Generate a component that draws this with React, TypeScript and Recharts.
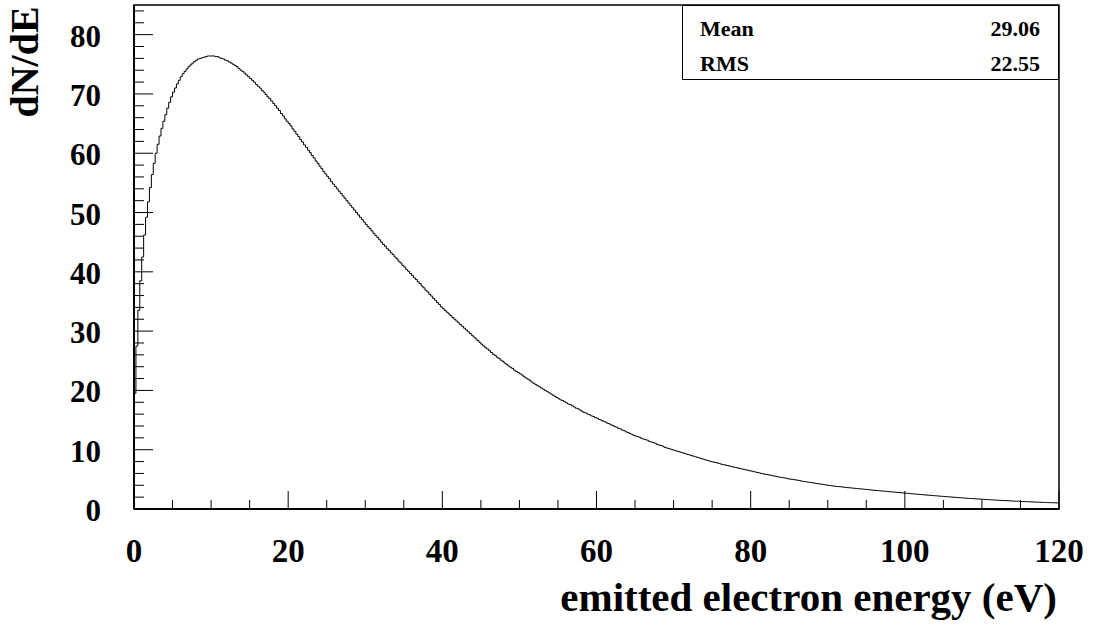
import React from "react";
import { LineChart, Line, XAxis, YAxis, ReferenceArea } from "recharts";

// histogram: 480 bins of 0.25 eV from 0 to 120 eV (one row = 5 eV)
const BIN_WIDTH = 0.25;
const COUNTS = [
  19.5, 27.5, 33.5, 38.5, 42.5, 46.2, 49.2, 51.8, 54.2, 56.4, 58.3, 60.0, 61.5, 62.9, 64.2, 65.4, 66.5, 67.6, 68.6, 69.5,
  70.3, 71.0, 71.7, 72.3, 72.9, 73.4, 73.8, 74.2, 74.6, 74.9, 75.2, 75.5, 75.7, 75.9, 76.0, 76.1, 76.2, 76.3, 76.4, 76.4,
  76.4, 76.4, 76.3, 76.3, 76.1, 76.0, 75.9, 75.7, 75.6, 75.4, 75.2, 75.0, 74.8, 74.6, 74.3, 74.0, 73.8, 73.5, 73.2, 72.9,
  72.6, 72.3, 72.0, 71.6, 71.3, 71.0, 70.6, 70.3, 69.9, 69.5, 69.2, 68.8, 68.4, 68.0, 67.6, 67.2, 66.7, 66.3, 65.8, 65.4,
  65.0, 64.6, 64.1, 63.7, 63.2, 62.8, 62.3, 61.9, 61.4, 61.0, 60.5, 60.1, 59.6, 59.2, 58.7, 58.3, 57.8, 57.4, 56.9, 56.5,
  56.1, 55.7, 55.2, 54.8, 54.4, 54.0, 53.6, 53.2, 52.8, 52.4, 52.0, 51.6, 51.2, 50.8, 50.4, 50.0, 49.6, 49.2, 48.8, 48.4,
  48.0, 47.6, 47.3, 46.9, 46.5, 46.1, 45.8, 45.4, 45.0, 44.6, 44.3, 43.9, 43.6, 43.2, 42.9, 42.5, 42.2, 41.8, 41.5, 41.1,
  40.8, 40.4, 40.1, 39.7, 39.4, 39.0, 38.7, 38.3, 38.0, 37.6, 37.3, 36.9, 36.6, 36.2, 35.9, 35.5, 35.2, 34.8, 34.5, 34.1,
  33.8, 33.5, 33.2, 32.9, 32.6, 32.3, 32.0, 31.7, 31.4, 31.1, 30.8, 30.5, 30.2, 29.9, 29.6, 29.3, 29.0, 28.7, 28.4, 28.1,
  27.8, 27.5, 27.2, 27.0, 26.7, 26.4, 26.1, 25.9, 25.6, 25.4, 25.1, 24.9, 24.6, 24.4, 24.1, 23.9, 23.7, 23.4, 23.2, 23.0,
  22.8, 22.6, 22.3, 22.1, 21.9, 21.7, 21.4, 21.2, 21.0, 20.8, 20.6, 20.4, 20.2, 20.0, 19.8, 19.6, 19.4, 19.2, 19.0, 18.8,
  18.6, 18.4, 18.3, 18.1, 17.9, 17.7, 17.6, 17.4, 17.2, 17.0, 16.9, 16.7, 16.5, 16.3, 16.2, 16.0, 15.9, 15.7, 15.6, 15.4,
  15.3, 15.1, 15.0, 14.8, 14.7, 14.5, 14.4, 14.2, 14.1, 13.9, 13.8, 13.6, 13.5, 13.3, 13.2, 13.0, 12.9, 12.7, 12.6, 12.4,
  12.3, 12.2, 12.1, 11.9, 11.8, 11.7, 11.6, 11.4, 11.3, 11.2, 11.1, 10.9, 10.8, 10.7, 10.6, 10.4, 10.3, 10.2, 10.1, 10.0,
  9.9, 9.8, 9.7, 9.6, 9.5, 9.4, 9.3, 9.2, 9.1, 9.0, 8.9, 8.8, 8.7, 8.6, 8.5, 8.4, 8.3, 8.2, 8.1, 8.0,
  7.95, 7.85, 7.8, 7.7, 7.6, 7.5, 7.45, 7.35, 7.3, 7.2, 7.15, 7.05, 7.0, 6.9, 6.85, 6.75, 6.7, 6.6, 6.55, 6.45,
  6.4, 6.3, 6.25, 6.15, 6.1, 6.0, 5.95, 5.85, 5.8, 5.75, 5.7, 5.6, 5.55, 5.5, 5.4, 5.35, 5.3, 5.25, 5.2, 5.1,
  5.05, 5.0, 4.95, 4.9, 4.85, 4.8, 4.7, 4.65, 4.6, 4.55, 4.5, 4.45, 4.4, 4.35, 4.3, 4.25, 4.2, 4.15, 4.1, 4.05,
  4.0, 3.95, 3.9, 3.85, 3.82, 3.78, 3.75, 3.72, 3.68, 3.64, 3.6, 3.57, 3.54, 3.51, 3.48, 3.44, 3.41, 3.38, 3.35, 3.32,
  3.29, 3.25, 3.21, 3.18, 3.15, 3.12, 3.09, 3.06, 3.03, 3.0, 2.97, 2.94, 2.91, 2.88, 2.85, 2.82, 2.79, 2.76, 2.73, 2.7,
  2.67, 2.64, 2.61, 2.58, 2.55, 2.52, 2.49, 2.46, 2.44, 2.41, 2.38, 2.35, 2.33, 2.3, 2.27, 2.24, 2.22, 2.19, 2.16, 2.14,
  2.11, 2.08, 2.06, 2.03, 2.01, 1.98, 1.96, 1.93, 1.91, 1.88, 1.86, 1.84, 1.81, 1.79, 1.77, 1.75, 1.72, 1.7, 1.68, 1.66,
  1.64, 1.62, 1.6, 1.58, 1.56, 1.54, 1.52, 1.5, 1.48, 1.46, 1.44, 1.43, 1.41, 1.39, 1.37, 1.36, 1.34, 1.32, 1.31, 1.29,
  1.28, 1.26, 1.25, 1.23, 1.22, 1.2, 1.19, 1.17, 1.16, 1.15, 1.13, 1.12, 1.11, 1.09, 1.08, 1.07, 1.06, 1.05, 1.04, 1.03,
];

const X_TICKS = [0, 5, 10, 15, 20, 25, 30, 35, 40, 45, 50, 55, 60, 65, 70, 75, 80, 85, 90, 95, 100, 105, 110, 115, 120];
const X_LABELS = [0, 20, 40, 60, 80, 100, 120];
const Y_TICKS = [0, 2, 4, 6, 8, 10, 12, 14, 16, 18, 20, 22, 24, 26, 28, 30, 32, 34, 36, 38, 40, 42, 44, 46, 48, 50, 52, 54, 56, 58, 60, 62, 64, 66, 68, 70, 72, 74, 76, 78, 80, 82, 84];
const Y_LABELS = [0, 10, 20, 30, 40, 50, 60, 70, 80];
const STATS = [
  { name: "Mean", value: "29.06" },
  { name: "RMS", value: "22.55" },
];

// step line needs a closing point at the upper edge of the last bin
const data = [
  ...COUNTS.map((n, i) => ({ e: i * BIN_WIDTH, n })),
  { e: COUNTS.length * BIN_WIDTH, n: COUNTS[COUNTS.length - 1] },
];

const FONT = "'Liberation Serif', 'Times New Roman', serif";

function XTick(props: any) {
  const { x, y, payload } = props;
  const major = X_LABELS.includes(payload.value);
  return (
    <g>
      <line x1={x} x2={x} y1={y} y2={y - (major ? 18 : 9)} stroke="#000" strokeWidth={1} />
      {major && (
        <text x={x} y={y + 53} textAnchor="middle" fontFamily={FONT} fontWeight="bold" fontSize={33} fill="#000">
          {payload.value}
        </text>
      )}
    </g>
  );
}

function YTick(props: any) {
  const { x, y, payload } = props;
  const major = Y_LABELS.includes(payload.value);
  return (
    <g>
      <line x1={x} x2={x + (major ? 19 : 10)} y1={y} y2={y} stroke="#000" strokeWidth={1} />
      {major && (
        <text x={x - 33} y={y + 12} textAnchor="end" fontFamily={FONT} fontWeight="bold" fontSize={31} fill="#000">
          {payload.value}
        </text>
      )}
    </g>
  );
}

export default function App() {
  return (
    <div style={{ position: "absolute", left: 0, top: 0, width: 1094, height: 629, background: "#fff" }}>
      <LineChart width={1094} height={629} data={data} margin={{ top: 5, right: 35, bottom: 0, left: 0 }}>
        <XAxis
          dataKey="e"
          type="number"
          domain={[0, 120]}
          allowDataOverflow
          ticks={X_TICKS}
          interval={0}
          height={120}
          tickSize={0}
          tickMargin={0}
          tick={XTick}
          axisLine={{ stroke: "#000", strokeWidth: 2 }}
          label={{
            content: () => (
              <text x={1057} y={611} textAnchor="end" fontFamily={FONT} fontWeight="bold" fontSize={41} fill="#000">
                emitted electron energy (eV)
              </text>
            ),
          }}
        />
        <YAxis
          type="number"
          domain={[0, 85]}
          allowDataOverflow
          ticks={Y_TICKS}
          interval={0}
          width={134}
          tickSize={0}
          tickMargin={0}
          tick={YTick}
          axisLine={{ stroke: "#000", strokeWidth: 2 }}
          label={{
            content: () => (
              <text
                x={38}
                y={62}
                textAnchor="middle"
                transform="rotate(-90 38 62)"
                fontFamily={FONT}
                fontWeight="bold"
                fontSize={40}
                fill="#000"
              >
                dN/dE
              </text>
            ),
          }}
        />
        <ReferenceArea x1={0} x2={120} y1={0} y2={85} fill="none" stroke="#000" strokeWidth={1.5} ifOverflow="visible" />
        <Line
          dataKey="n"
          type="stepAfter"
          stroke="#000"
          strokeWidth={1}
          dot={false}
          activeDot={false}
          isAnimationActive={false}
        />
      </LineChart>
      <div
        style={{
          position: "absolute",
          left: 682,
          top: 5,
          width: 377,
          height: 75,
          boxSizing: "border-box",
          border: "1.5px solid #000",
          background: "#fff",
          fontFamily: FONT,
          fontWeight: "bold",
          fontSize: 22,
        }}
      >
        {STATS.map((s, i) => (
          <div
            key={s.name}
            style={{
              position: "absolute",
              left: 17,
              right: 18,
              top: 8 + i * 35,
              display: "flex",
              justifyContent: "space-between",
              lineHeight: "30px",
            }}
          >
            <span>{s.name}</span>
            <span>{s.value}</span>
          </div>
        ))}
      </div>
    </div>
  );
}
